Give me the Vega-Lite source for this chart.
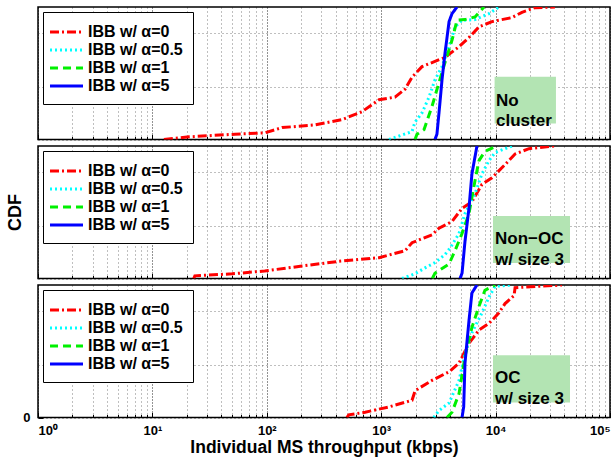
{
  "$schema": "https://vega.github.io/schema/vega-lite/v6.json",
  "padding": {"left": 5, "top": 6, "right": 0, "bottom": 0},
  "config": {
    "view": {"stroke": "black", "strokeWidth": 1.5},
    "font": "Liberation Sans",
    "axis": {"labelFont": "Liberation Sans", "labelFontWeight": "bold", "labelFontSize": 13, "labelColor": "black", "titleFont": "Liberation Sans", "titleFontWeight": "bold", "titleFontSize": 18, "titleColor": "black", "domain": false, "tickColor": "black", "gridColor": "black", "labelOverlap": false},
    "legend": {"orient": "top-left", "offset": 5, "strokeColor": "black", "fillColor": "white", "padding": 10, "labelFont": "Liberation Sans", "labelFontWeight": "bold", "labelFontSize": 16, "labelColor": "black", "symbolType": "M-2,0H2", "symbolSize": 272, "symbolStrokeWidth": 3, "symbolOffset": 3.5, "labelOffset": 11.5, "labelLimit": 0, "rowPadding": 0, "cornerRadius": 0},
    "concat": {"spacing": 3}
  },
  "resolve": {"legend": {"color": "independent", "strokeDash": "independent"}},
  "datasets": {
    "curves": [
      {"panel": 1, "series": "IBB w/ α=0", "throughput": 12.6, "cdf": 0},
      {"panel": 1, "series": "IBB w/ α=0", "throughput": 20.9, "cdf": 0.02},
      {"panel": 1, "series": "IBB w/ α=0", "throughput": 52.7, "cdf": 0.04},
      {"panel": 1, "series": "IBB w/ α=0", "throughput": 96.4, "cdf": 0.05},
      {"panel": 1, "series": "IBB w/ α=0", "throughput": 136, "cdf": 0.09},
      {"panel": 1, "series": "IBB w/ α=0", "throughput": 264, "cdf": 0.11},
      {"panel": 1, "series": "IBB w/ α=0", "throughput": 454, "cdf": 0.15},
      {"panel": 1, "series": "IBB w/ α=0", "throughput": 679, "cdf": 0.21},
      {"panel": 1, "series": "IBB w/ α=0", "throughput": 957, "cdf": 0.30},
      {"panel": 1, "series": "IBB w/ α=0", "throughput": 1320, "cdf": 0.32},
      {"panel": 1, "series": "IBB w/ α=0", "throughput": 1616, "cdf": 0.38},
      {"panel": 1, "series": "IBB w/ α=0", "throughput": 1860, "cdf": 0.47},
      {"panel": 1, "series": "IBB w/ α=0", "throughput": 2274, "cdf": 0.55},
      {"panel": 1, "series": "IBB w/ α=0", "throughput": 2953, "cdf": 0.59},
      {"panel": 1, "series": "IBB w/ α=0", "throughput": 3612, "cdf": 0.62},
      {"panel": 1, "series": "IBB w/ α=0", "throughput": 4790, "cdf": 0.70},
      {"panel": 1, "series": "IBB w/ α=0", "throughput": 5850, "cdf": 0.77},
      {"panel": 1, "series": "IBB w/ α=0", "throughput": 7160, "cdf": 0.85},
      {"panel": 1, "series": "IBB w/ α=0", "throughput": 9300, "cdf": 0.89},
      {"panel": 1, "series": "IBB w/ α=0", "throughput": 13900, "cdf": 0.92},
      {"panel": 1, "series": "IBB w/ α=0", "throughput": 17000, "cdf": 0.96},
      {"panel": 1, "series": "IBB w/ α=0", "throughput": 22100, "cdf": 0.995},
      {"panel": 1, "series": "IBB w/ α=0", "throughput": 33000, "cdf": 1.0},
      {"panel": 1, "series": "IBB w/ α=0.5", "throughput": 1170, "cdf": 0},
      {"panel": 1, "series": "IBB w/ α=0.5", "throughput": 1860, "cdf": 0.06},
      {"panel": 1, "series": "IBB w/ α=0.5", "throughput": 1970, "cdf": 0.13},
      {"panel": 1, "series": "IBB w/ α=0.5", "throughput": 2270, "cdf": 0.20},
      {"panel": 1, "series": "IBB w/ α=0.5", "throughput": 2620, "cdf": 0.32},
      {"panel": 1, "series": "IBB w/ α=0.5", "throughput": 2950, "cdf": 0.45},
      {"panel": 1, "series": "IBB w/ α=0.5", "throughput": 3400, "cdf": 0.55},
      {"panel": 1, "series": "IBB w/ α=0.5", "throughput": 3920, "cdf": 0.70},
      {"panel": 1, "series": "IBB w/ α=0.5", "throughput": 4420, "cdf": 0.85},
      {"panel": 1, "series": "IBB w/ α=0.5", "throughput": 5090, "cdf": 0.90},
      {"panel": 1, "series": "IBB w/ α=0.5", "throughput": 6610, "cdf": 0.905},
      {"panel": 1, "series": "IBB w/ α=0.5", "throughput": 8760, "cdf": 0.95},
      {"panel": 1, "series": "IBB w/ α=0.5", "throughput": 10700, "cdf": 1.0},
      {"panel": 1, "series": "IBB w/ α=1", "throughput": 1975, "cdf": 0},
      {"panel": 1, "series": "IBB w/ α=1", "throughput": 2055, "cdf": 0.04},
      {"panel": 1, "series": "IBB w/ α=1", "throughput": 2370, "cdf": 0.075},
      {"panel": 1, "series": "IBB w/ α=1", "throughput": 2780, "cdf": 0.25},
      {"panel": 1, "series": "IBB w/ α=1", "throughput": 3200, "cdf": 0.43},
      {"panel": 1, "series": "IBB w/ α=1", "throughput": 3610, "cdf": 0.58},
      {"panel": 1, "series": "IBB w/ α=1", "throughput": 4160, "cdf": 0.75},
      {"panel": 1, "series": "IBB w/ α=1", "throughput": 4600, "cdf": 0.90},
      {"panel": 1, "series": "IBB w/ α=1", "throughput": 5400, "cdf": 0.905},
      {"panel": 1, "series": "IBB w/ α=1", "throughput": 6610, "cdf": 0.925},
      {"panel": 1, "series": "IBB w/ α=1", "throughput": 7920, "cdf": 1.0},
      {"panel": 1, "series": "IBB w/ α=5", "throughput": 2950, "cdf": 0},
      {"panel": 1, "series": "IBB w/ α=5", "throughput": 3070, "cdf": 0.04},
      {"panel": 1, "series": "IBB w/ α=5", "throughput": 3200, "cdf": 0.2},
      {"panel": 1, "series": "IBB w/ α=5", "throughput": 3400, "cdf": 0.45},
      {"panel": 1, "series": "IBB w/ α=5", "throughput": 3610, "cdf": 0.65},
      {"panel": 1, "series": "IBB w/ α=5", "throughput": 3920, "cdf": 0.89},
      {"panel": 1, "series": "IBB w/ α=5", "throughput": 4160, "cdf": 0.95},
      {"panel": 1, "series": "IBB w/ α=5", "throughput": 4600, "cdf": 1.0},

      {"panel": 2, "series": "IBB w/ α=0", "throughput": 23, "cdf": 0},
      {"panel": 2, "series": "IBB w/ α=0", "throughput": 23.5, "cdf": 0.02},
      {"panel": 2, "series": "IBB w/ α=0", "throughput": 49.7, "cdf": 0.035},
      {"panel": 2, "series": "IBB w/ α=0", "throughput": 96, "cdf": 0.057},
      {"panel": 2, "series": "IBB w/ α=0", "throughput": 203, "cdf": 0.094},
      {"panel": 2, "series": "IBB w/ α=0", "throughput": 428, "cdf": 0.13},
      {"panel": 2, "series": "IBB w/ α=0", "throughput": 957, "cdf": 0.157},
      {"panel": 2, "series": "IBB w/ α=0", "throughput": 1616, "cdf": 0.21},
      {"panel": 2, "series": "IBB w/ α=0", "throughput": 1860, "cdf": 0.27},
      {"panel": 2, "series": "IBB w/ α=0", "throughput": 2780, "cdf": 0.33},
      {"panel": 2, "series": "IBB w/ α=0", "throughput": 3200, "cdf": 0.38},
      {"panel": 2, "series": "IBB w/ α=0", "throughput": 4160, "cdf": 0.43},
      {"panel": 2, "series": "IBB w/ α=0", "throughput": 5090, "cdf": 0.53},
      {"panel": 2, "series": "IBB w/ α=0", "throughput": 6210, "cdf": 0.58},
      {"panel": 2, "series": "IBB w/ α=0", "throughput": 7600, "cdf": 0.71},
      {"panel": 2, "series": "IBB w/ α=0", "throughput": 9300, "cdf": 0.76},
      {"panel": 2, "series": "IBB w/ α=0", "throughput": 12100, "cdf": 0.86},
      {"panel": 2, "series": "IBB w/ α=0", "throughput": 14800, "cdf": 0.94},
      {"panel": 2, "series": "IBB w/ α=0", "throughput": 19600, "cdf": 0.98},
      {"panel": 2, "series": "IBB w/ α=0", "throughput": 33000, "cdf": 1.0},
      {"panel": 2, "series": "IBB w/ α=0.5", "throughput": 1520, "cdf": 0},
      {"panel": 2, "series": "IBB w/ α=0.5", "throughput": 1975, "cdf": 0.036},
      {"panel": 2, "series": "IBB w/ α=0.5", "throughput": 2415, "cdf": 0.08},
      {"panel": 2, "series": "IBB w/ α=0.5", "throughput": 2950, "cdf": 0.12},
      {"panel": 2, "series": "IBB w/ α=0.5", "throughput": 3610, "cdf": 0.18},
      {"panel": 2, "series": "IBB w/ α=0.5", "throughput": 4000, "cdf": 0.23},
      {"panel": 2, "series": "IBB w/ α=0.5", "throughput": 4790, "cdf": 0.34},
      {"panel": 2, "series": "IBB w/ α=0.5", "throughput": 5400, "cdf": 0.49},
      {"panel": 2, "series": "IBB w/ α=0.5", "throughput": 6610, "cdf": 0.64},
      {"panel": 2, "series": "IBB w/ α=0.5", "throughput": 7600, "cdf": 0.79},
      {"panel": 2, "series": "IBB w/ α=0.5", "throughput": 8760, "cdf": 0.89},
      {"panel": 2, "series": "IBB w/ α=0.5", "throughput": 9890, "cdf": 0.95},
      {"panel": 2, "series": "IBB w/ α=0.5", "throughput": 13900, "cdf": 1.0},
      {"panel": 2, "series": "IBB w/ α=1", "throughput": 2800, "cdf": 0},
      {"panel": 2, "series": "IBB w/ α=1", "throughput": 2950, "cdf": 0.04},
      {"panel": 2, "series": "IBB w/ α=1", "throughput": 3920, "cdf": 0.11},
      {"panel": 2, "series": "IBB w/ α=1", "throughput": 4420, "cdf": 0.21},
      {"panel": 2, "series": "IBB w/ α=1", "throughput": 5090, "cdf": 0.34},
      {"panel": 2, "series": "IBB w/ α=1", "throughput": 5850, "cdf": 0.49},
      {"panel": 2, "series": "IBB w/ α=1", "throughput": 6610, "cdf": 0.74},
      {"panel": 2, "series": "IBB w/ α=1", "throughput": 7160, "cdf": 0.89},
      {"panel": 2, "series": "IBB w/ α=1", "throughput": 8070, "cdf": 0.96},
      {"panel": 2, "series": "IBB w/ α=1", "throughput": 10300, "cdf": 1.0},
      {"panel": 2, "series": "IBB w/ α=5", "throughput": 4890, "cdf": 0},
      {"panel": 2, "series": "IBB w/ α=5", "throughput": 5090, "cdf": 0.04},
      {"panel": 2, "series": "IBB w/ α=5", "throughput": 5400, "cdf": 0.28},
      {"panel": 2, "series": "IBB w/ α=5", "throughput": 5850, "cdf": 0.53},
      {"panel": 2, "series": "IBB w/ α=5", "throughput": 6210, "cdf": 0.79},
      {"panel": 2, "series": "IBB w/ α=5", "throughput": 6870, "cdf": 1.0},

      {"panel": 3, "series": "IBB w/ α=0", "throughput": 502, "cdf": 0},
      {"panel": 3, "series": "IBB w/ α=0", "throughput": 520, "cdf": 0.02},
      {"panel": 3, "series": "IBB w/ α=0", "throughput": 724, "cdf": 0.04},
      {"panel": 3, "series": "IBB w/ α=0", "throughput": 1170, "cdf": 0.08},
      {"panel": 3, "series": "IBB w/ α=0", "throughput": 1860, "cdf": 0.13},
      {"panel": 3, "series": "IBB w/ α=0", "throughput": 1975, "cdf": 0.2},
      {"panel": 3, "series": "IBB w/ α=0", "throughput": 2130, "cdf": 0.22},
      {"panel": 3, "series": "IBB w/ α=0", "throughput": 2780, "cdf": 0.28},
      {"panel": 3, "series": "IBB w/ α=0", "throughput": 3610, "cdf": 0.33},
      {"panel": 3, "series": "IBB w/ α=0", "throughput": 3920, "cdf": 0.345},
      {"panel": 3, "series": "IBB w/ α=0", "throughput": 4790, "cdf": 0.41},
      {"panel": 3, "series": "IBB w/ α=0", "throughput": 5850, "cdf": 0.56},
      {"panel": 3, "series": "IBB w/ α=0", "throughput": 7160, "cdf": 0.66},
      {"panel": 3, "series": "IBB w/ α=0", "throughput": 8760, "cdf": 0.71},
      {"panel": 3, "series": "IBB w/ α=0", "throughput": 10700, "cdf": 0.79},
      {"panel": 3, "series": "IBB w/ α=0", "throughput": 12100, "cdf": 0.86},
      {"panel": 3, "series": "IBB w/ α=0", "throughput": 14500, "cdf": 0.92},
      {"panel": 3, "series": "IBB w/ α=0", "throughput": 14800, "cdf": 0.98},
      {"panel": 3, "series": "IBB w/ α=0", "throughput": 38000, "cdf": 1.0},
      {"panel": 3, "series": "IBB w/ α=0.5", "throughput": 2880, "cdf": 0},
      {"panel": 3, "series": "IBB w/ α=0.5", "throughput": 3180, "cdf": 0.05},
      {"panel": 3, "series": "IBB w/ α=0.5", "throughput": 3920, "cdf": 0.11},
      {"panel": 3, "series": "IBB w/ α=0.5", "throughput": 4790, "cdf": 0.28},
      {"panel": 3, "series": "IBB w/ α=0.5", "throughput": 5400, "cdf": 0.48},
      {"panel": 3, "series": "IBB w/ α=0.5", "throughput": 6210, "cdf": 0.64},
      {"panel": 3, "series": "IBB w/ α=0.5", "throughput": 7600, "cdf": 0.79},
      {"panel": 3, "series": "IBB w/ α=0.5", "throughput": 8760, "cdf": 0.91},
      {"panel": 3, "series": "IBB w/ α=0.5", "throughput": 9890, "cdf": 0.99},
      {"panel": 3, "series": "IBB w/ α=0.5", "throughput": 13900, "cdf": 1.0},
      {"panel": 3, "series": "IBB w/ α=1", "throughput": 3760, "cdf": 0},
      {"panel": 3, "series": "IBB w/ α=1", "throughput": 4160, "cdf": 0.04},
      {"panel": 3, "series": "IBB w/ α=1", "throughput": 4790, "cdf": 0.18},
      {"panel": 3, "series": "IBB w/ α=1", "throughput": 5400, "cdf": 0.46},
      {"panel": 3, "series": "IBB w/ α=1", "throughput": 6210, "cdf": 0.68},
      {"panel": 3, "series": "IBB w/ α=1", "throughput": 7160, "cdf": 0.84},
      {"panel": 3, "series": "IBB w/ α=1", "throughput": 8070, "cdf": 0.96},
      {"panel": 3, "series": "IBB w/ α=1", "throughput": 9890, "cdf": 1.0},
      {"panel": 3, "series": "IBB w/ α=5", "throughput": 5090, "cdf": 0},
      {"panel": 3, "series": "IBB w/ α=5", "throughput": 5260, "cdf": 0.08},
      {"panel": 3, "series": "IBB w/ α=5", "throughput": 5400, "cdf": 0.41},
      {"panel": 3, "series": "IBB w/ α=5", "throughput": 5850, "cdf": 0.73},
      {"panel": 3, "series": "IBB w/ α=5", "throughput": 6210, "cdf": 0.94},
      {"panel": 3, "series": "IBB w/ α=5", "throughput": 6870, "cdf": 1.0}
    ]
  },
  "vconcat": [
    {
      "width": 572, "height": 132.5,
      "layer": [
        {
          "data": {"name": "curves"},
          "transform": [{"filter": "datum.panel == 1"}],
          "mark": {"type": "line", "strokeWidth": 3, "clip": true},
          "encoding": {
            "x": {"field": "throughput", "type": "quantitative", "scale": {"type": "log", "domain": [1, 100000]},
              "axis": {"title": null, "labels": false, "labelOverlap": false, "values": [1,2,3,4,5,6,7,8,9,10,20,30,40,50,60,70,80,90,100,200,300,400,500,600,700,800,900,1000,2000,3000,4000,5000,6000,7000,8000,9000,10000,20000,30000,40000,50000,60000,70000,80000,90000,100000],
                "tickSize": {"condition": {"test": "indexof([1,10,100,1000,10000,100000], datum.value) >= 0", "value": -5}, "value": -3},
                "gridDash": {"condition": {"test": "indexof([1,10,100,1000,10000,100000], datum.value) >= 0", "value": [1, 2]}, "value": [1, 3]},
                "gridOpacity": {"condition": {"test": "indexof([1,10,100,1000,10000,100000], datum.value) >= 0", "value": 0.85}, "value": 0.5}}},
            "y": {"field": "cdf", "type": "quantitative", "scale": {"domain": [0, 1]},
              "axis": {"title": null, "labels": false, "labelOverlap": false, "values": [0,0.1,0.2,0.3,0.4,0.5,0.6,0.7,0.8,0.9,1],
                "tickSize": {"condition": {"test": "datum.value == 0.5", "value": -5}, "value": 0},
                "gridDash": {"condition": {"test": "datum.value == 0.5", "value": [1, 2]}, "value": [1, 3]},
                "gridOpacity": {"condition": {"test": "datum.value == 0.5", "value": 0.85}, "value": 0.5}}},
            "color": {"field": "series", "type": "nominal", "title": null, "legend": {"symbolType": "M-2,0H2", "symbolSize": 272},
              "scale": {"domain": ["IBB w/ α=0", "IBB w/ α=0.5", "IBB w/ α=1", "IBB w/ α=5"], "range": ["#ff0000", "#00ffff", "#00f000", "#0000ff"]}},
            "strokeDash": {"field": "series", "type": "nominal", "title": null, "legend": {"symbolType": "M-2,0H2", "symbolSize": 272},
              "scale": {"domain": ["IBB w/ α=0", "IBB w/ α=0.5", "IBB w/ α=1", "IBB w/ α=5"], "range": [[9, 3, 2, 3], [2, 3], [8, 5], [1, 0]]}},
            "order": {"field": "cdf"}
          }
        },
        {
          "data": {"values": [{}]},
          "mark": {"type": "rect", "color": "#b3e4b3"},
          "encoding": {"x": {"datum": 9800}, "x2": {"datum": 33700}, "y": {"datum": 0.474}, "y2": {"datum": 0.12}}
        },
        {
          "data": {"values": [{}]},
          "mark": {"type": "text", "align": "left", "baseline": "middle", "font": "Liberation Sans", "fontWeight": "bold", "fontSize": 17, "lineHeight": 20, "color": "black"},
          "encoding": {"x": {"datum": 10080}, "y": {"datum": 0.29}, "text": {"value": ["No", "cluster"]}}
        }
      ]
    },
    {
      "width": 572, "height": 132.5,
      "layer": [
        {
          "data": {"name": "curves"},
          "transform": [{"filter": "datum.panel == 2"}],
          "mark": {"type": "line", "strokeWidth": 3, "clip": true},
          "encoding": {
            "x": {"field": "throughput", "type": "quantitative", "scale": {"type": "log", "domain": [1, 100000]},
              "axis": {"title": null, "labels": false, "labelOverlap": false, "values": [1,2,3,4,5,6,7,8,9,10,20,30,40,50,60,70,80,90,100,200,300,400,500,600,700,800,900,1000,2000,3000,4000,5000,6000,7000,8000,9000,10000,20000,30000,40000,50000,60000,70000,80000,90000,100000],
                "tickSize": {"condition": {"test": "indexof([1,10,100,1000,10000,100000], datum.value) >= 0", "value": -5}, "value": -3},
                "gridDash": {"condition": {"test": "indexof([1,10,100,1000,10000,100000], datum.value) >= 0", "value": [1, 2]}, "value": [1, 3]},
                "gridOpacity": {"condition": {"test": "indexof([1,10,100,1000,10000,100000], datum.value) >= 0", "value": 0.85}, "value": 0.5}}},
            "y": {"field": "cdf", "type": "quantitative", "scale": {"domain": [0, 1]},
              "axis": {"title": "CDF", "titleX": -14, "titleY": 66, "labels": false, "labelOverlap": false, "values": [0,0.1,0.2,0.3,0.4,0.5,0.6,0.7,0.8,0.9,1],
                "tickSize": {"condition": {"test": "datum.value == 0.5", "value": -5}, "value": 0},
                "gridDash": {"condition": {"test": "datum.value == 0.5", "value": [1, 2]}, "value": [1, 3]},
                "gridOpacity": {"condition": {"test": "datum.value == 0.5", "value": 0.85}, "value": 0.5}}},
            "color": {"field": "series", "type": "nominal", "title": null, "legend": {"symbolType": "M-2,0H2", "symbolSize": 272},
              "scale": {"domain": ["IBB w/ α=0", "IBB w/ α=0.5", "IBB w/ α=1", "IBB w/ α=5"], "range": ["#ff0000", "#00ffff", "#00f000", "#0000ff"]}},
            "strokeDash": {"field": "series", "type": "nominal", "title": null, "legend": {"symbolType": "M-2,0H2", "symbolSize": 272},
              "scale": {"domain": ["IBB w/ α=0", "IBB w/ α=0.5", "IBB w/ α=1", "IBB w/ α=5"], "range": [[9, 3, 2, 3], [2, 3], [8, 5], [1, 0]]}},
            "order": {"field": "cdf"}
          }
        },
        {
          "data": {"values": [{}]},
          "mark": {"type": "rect", "color": "#b3e4b3"},
          "encoding": {"x": {"datum": 9490}, "x2": {"datum": 44700}, "y": {"datum": 0.472}, "y2": {"datum": 0.117}}
        },
        {
          "data": {"values": [{}]},
          "mark": {"type": "text", "align": "left", "baseline": "middle", "font": "Liberation Sans", "fontWeight": "bold", "fontSize": 17, "lineHeight": 21, "color": "black"},
          "encoding": {"x": {"datum": 9880}, "y": {"datum": 0.30}, "text": {"value": ["Non−OC", "w/ size 3"]}}
        }
      ]
    },
    {
      "width": 572, "height": 132.5,
      "layer": [
        {
          "data": {"name": "curves"},
          "transform": [{"filter": "datum.panel == 3"}],
          "mark": {"type": "line", "strokeWidth": 3, "clip": true},
          "encoding": {
            "x": {"field": "throughput", "type": "quantitative", "scale": {"type": "log", "domain": [1, 100000]},
              "axis": {"title": "Individual MS throughput (kbps)", "titlePadding": 1, "titleFontSize": 17.5, "labelPadding": 12, "labelOverlap": false, "values": [1,2,3,4,5,6,7,8,9,10,20,30,40,50,60,70,80,90,100,200,300,400,500,600,700,800,900,1000,2000,3000,4000,5000,6000,7000,8000,9000,10000,20000,30000,40000,50000,60000,70000,80000,90000,100000],
                "labelExpr": "datum.value == 1 ? '10⁰' : datum.value == 10 ? '10¹' : datum.value == 100 ? '10²' : datum.value == 1000 ? '10³' : datum.value == 10000 ? '10⁴' : datum.value == 100000 ? '10⁵' : ''",
                "labelFontSize": {"condition": {"test": "indexof([1,10,100,1000,10000,100000], datum.value) >= 0", "value": 13}, "value": 0},
                "tickSize": {"condition": {"test": "indexof([1,10,100,1000,10000,100000], datum.value) >= 0", "value": -5}, "value": -3},
                "gridDash": {"condition": {"test": "indexof([1,10,100,1000,10000,100000], datum.value) >= 0", "value": [1, 2]}, "value": [1, 3]},
                "gridOpacity": {"condition": {"test": "indexof([1,10,100,1000,10000,100000], datum.value) >= 0", "value": 0.85}, "value": 0.5}}},
            "y": {"field": "cdf", "type": "quantitative", "scale": {"domain": [0, 1]},
              "axis": {"title": null, "labelPadding": 13, "labelOverlap": false, "values": [0,0.1,0.2,0.3,0.4,0.5,0.6,0.7,0.8,0.9,1],
                "labelExpr": "datum.value == 0 ? '0' : datum.value == 0.5 ? '0.5' : datum.value == 1 ? '1' : ''",
                "labelFontSize": {"condition": {"test": "datum.value == 0 || datum.value == 0.5 || datum.value == 1", "value": 13}, "value": 0},
                "tickSize": {"condition": {"test": "datum.value == 0 || datum.value == 0.5 || datum.value == 1", "value": -5}, "value": 0},
                "gridDash": {"condition": {"test": "datum.value == 0.5", "value": [1, 2]}, "value": [1, 3]},
                "gridOpacity": {"condition": {"test": "datum.value == 0.5", "value": 0.85}, "value": 0.5}}},
            "color": {"field": "series", "type": "nominal", "title": null, "legend": {"symbolType": "M-2,0H2", "symbolSize": 272},
              "scale": {"domain": ["IBB w/ α=0", "IBB w/ α=0.5", "IBB w/ α=1", "IBB w/ α=5"], "range": ["#ff0000", "#00ffff", "#00f000", "#0000ff"]}},
            "strokeDash": {"field": "series", "type": "nominal", "title": null, "legend": {"symbolType": "M-2,0H2", "symbolSize": 272},
              "scale": {"domain": ["IBB w/ α=0", "IBB w/ α=0.5", "IBB w/ α=1", "IBB w/ α=5"], "range": [[9, 3, 2, 3], [2, 3], [8, 5], [1, 0]]}},
            "order": {"field": "cdf"}
          }
        },
        {
          "data": {"values": [{}]},
          "mark": {"type": "rect", "color": "#b3e4b3"},
          "encoding": {"x": {"datum": 9490}, "x2": {"datum": 44700}, "y": {"datum": 0.47, "axis": {"labelOverlap": false}}, "y2": {"datum": 0.114}}
        },
        {
          "data": {"values": [{}]},
          "mark": {"type": "text", "align": "left", "baseline": "middle", "font": "Liberation Sans", "fontWeight": "bold", "fontSize": 17, "lineHeight": 21, "color": "black"},
          "encoding": {"x": {"datum": 9880}, "y": {"datum": 0.295, "axis": {"labelOverlap": false}}, "text": {"value": ["OC", "w/ size 3"]}}
        }
      ]
    }
  ]
}
